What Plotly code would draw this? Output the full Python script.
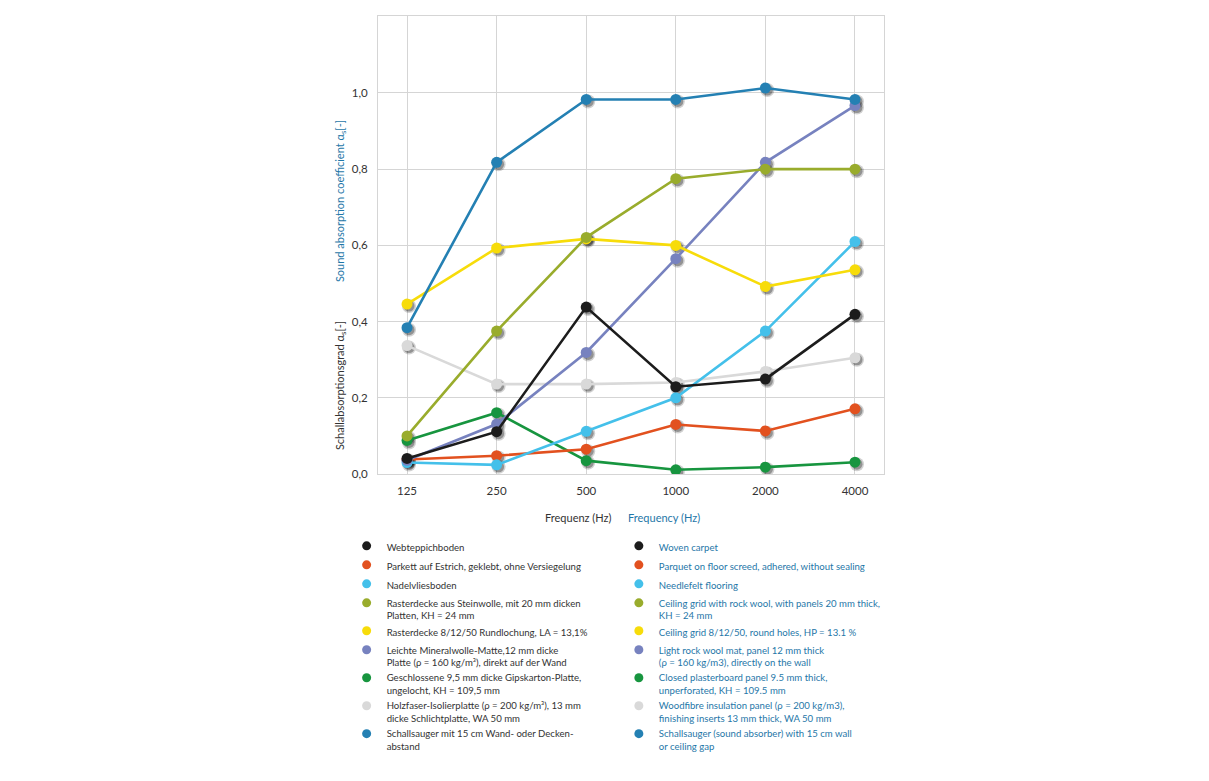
import plotly.graph_objects as go

# ---------------- data ----------------
frequencies = ["125", "250", "500", "1000", "2000", "4000"]

woven_carpet = [0.041, 0.111, 0.438, 0.229, 0.249, 0.419]
parquet = [0.038, 0.048, 0.065, 0.130, 0.113, 0.171]
needlefelt = [0.030, 0.024, 0.112, 0.200, 0.375, 0.610]
grid_rockwool = [0.100, 0.375, 0.621, 0.775, 0.800, 0.800]
grid_round_holes = [0.446, 0.593, 0.617, 0.600, 0.492, 0.536]
rockwool_mat = [0.036, 0.131, 0.319, 0.565, 0.818, 0.967]
plasterboard = [0.088, 0.161, 0.035, 0.011, 0.018, 0.031]
woodfibre = [0.337, 0.236, 0.236, 0.240, 0.269, 0.305]
sound_absorber = [0.384, 0.818, 0.983, 0.983, 1.013, 0.983]

names_de = [
    "Webteppichboden",
    "Parkett auf Estrich, geklebt, ohne Versiegelung",
    "Nadelvliesboden",
    "Rasterdecke aus Steinwolle, mit 20 mm dicken<br>Platten, KH = 24 mm",
    "Rasterdecke 8/12/50 Rundlochung, LA = 13,1%",
    "Leichte Mineralwolle-Matte,12 mm dicke<br>Platte (ρ = 160 kg/m³), direkt auf der Wand",
    "Geschlossene 9,5 mm dicke Gipskarton-Platte,<br>ungelocht, KH = 109,5 mm",
    "Holzfaser-Isolierplatte (ρ = 200 kg/m³), 13 mm<br>dicke Schlichtplatte, WA 50 mm",
    "Schallsauger mit 15 cm Wand- oder Decken-<br>abstand",
]
names_en = [
    "Woven carpet",
    "Parquet on floor screed, adhered, without sealing",
    "Needlefelt flooring",
    "Ceiling grid with rock wool, with panels 20 mm thick,<br>KH = 24 mm",
    "Ceiling grid 8/12/50, round holes, HP = 13.1 %",
    "Light rock wool mat, panel 12 mm thick<br>(ρ = 160 kg/m3), directly on the wall",
    "Closed plasterboard panel 9.5 mm thick,<br>unperforated, KH = 109.5 mm",
    "Woodfibre insulation panel (ρ = 200 kg/m3),<br>finishing inserts 13 mm thick, WA 50 mm",
    "Schallsauger (sound absorber) with 15 cm wall<br>or ceiling gap",
]

y_tickvals = [0.0, 0.2, 0.4, 0.6, 0.8, 1.0]
y_ticktext = ["0,0", "0,2", "0,4", "0,6", "0,8", "1,0"]

series = [woven_carpet, parquet, needlefelt, grid_rockwool, grid_round_holes,
          rockwool_mat, plasterboard, woodfibre, sound_absorber]

# ---------------- styles ----------------
colors = ["#1c1c1c", "#e2511f", "#44c0ea", "#99ac2c", "#f7dc0a",
          "#7782bf", "#17953f", "#d9d9d9", "#2480b3"]
# draw order (back to front)
draw_order = [7, 6, 1, 2, 5, 4, 3, 0, 8]

FONT = "Lato, 'Open Sans', sans-serif"
DARK = "#333333"
BLUE = "#1f77a8"
GRID = "#d5d5d5"

XR = [-0.324, 5.324]
YR = [0.0, 1.202]
# shadow offset (in data units ~2 px)
DX = 2.0 / 89.6
DY = 2.0 / 380.7

fig = go.Figure()

# legend entries (markers only)
for i in range(len(series)):
    fig.add_trace(go.Scatter(
        x=[None], y=[None], mode="markers", name=names_de[i],
        marker=dict(color=colors[i], size=9),
        legend="legend", hoverinfo="skip"))
for i in range(len(series)):
    fig.add_trace(go.Scatter(
        x=[None], y=[None], mode="markers", name=names_en[i],
        marker=dict(color=colors[i], size=9),
        legend="legend2", hoverinfo="skip"))

# soft marker shadows (overlay axes shifted by a couple of pixels)
for i in draw_order:
    fig.add_trace(go.Scatter(
        x=frequencies, y=series[i], mode="markers", showlegend=False,
        xaxis="x2", yaxis="y2", hoverinfo="skip",
        marker=dict(color="rgba(0,0,0,0.18)", size=14,
                    line=dict(width=0))))
    fig.add_trace(go.Scatter(
        x=frequencies, y=series[i], mode="markers", showlegend=False,
        xaxis="x2", yaxis="y2", hoverinfo="skip",
        marker=dict(color="rgba(0,0,0,0.30)", size=11,
                    line=dict(width=0))))

# main lines + markers
for i in draw_order:
    fig.add_trace(go.Scatter(
        x=frequencies, y=series[i], mode="lines+markers", showlegend=False,
        name=names_en[i].replace("<br>", " "),
        xaxis="x3", yaxis="y3",
        line=dict(color=colors[i], width=2.6),
        marker=dict(color=colors[i], size=11, line=dict(width=0))))

axis_common = dict(showgrid=False, zeroline=False, showticklabels=False,
                   showline=False, fixedrange=True)

fig.update_layout(
    width=1201, height=773,
    margin=dict(l=370, r=325, t=8, b=307, autoexpand=False),
    paper_bgcolor="white", plot_bgcolor="white",
    font=dict(family=FONT, color=DARK, size=11),
    xaxis=dict(type="category", categoryorder="array", categoryarray=frequencies,
               range=XR, showgrid=True, gridcolor=GRID, gridwidth=1,
               showline=True, mirror=True, linecolor=GRID, linewidth=1,
               zeroline=False, ticks="outside", ticklen=6,
               tickcolor="rgba(0,0,0,0)",
               tickfont=dict(family=FONT, size=11.5, color=DARK)),
    yaxis=dict(range=YR, tickvals=y_tickvals, ticktext=y_ticktext,
               showgrid=True, gridcolor=GRID, gridwidth=1,
               showline=True, mirror=True, linecolor=GRID, linewidth=1,
               zeroline=False, ticks="outside", ticklen=7,
               tickcolor="rgba(0,0,0,0)",
               tickfont=dict(family=FONT, size=11.5, color=DARK)),
    xaxis2=dict(type="category", categoryorder="array", categoryarray=frequencies,
                overlaying="x", range=[XR[0] - DX, XR[1] - DX], **axis_common),
    yaxis2=dict(overlaying="y", range=[YR[0] + DY, YR[1] + DY], **axis_common),
    xaxis3=dict(type="category", categoryorder="array", categoryarray=frequencies,
                overlaying="x", range=XR, **axis_common),
    yaxis3=dict(overlaying="y", range=YR, **axis_common),
    legend=dict(x=-0.062, y=-0.129, xanchor="left", yanchor="top",
                bgcolor="rgba(0,0,0,0)", valign="top",
                font=dict(family=FONT, size=9.6, color=DARK),
                itemclick=False, itemdoubleclick=False),
    legend2=dict(x=0.476, y=-0.129, xanchor="left", yanchor="top",
                 bgcolor="rgba(0,0,0,0)", valign="top",
                 font=dict(family=FONT, size=9.6, color=BLUE),
                 itemclick=False, itemdoubleclick=False),
    showlegend=True,
    annotations=[
        dict(text="Schallabsorptionsgrad α<sub>s</sub>[-]", xref="paper", yref="paper",
             x=-0.075, y=0.192, xanchor="center", yanchor="middle",
             textangle=-90, showarrow=False,
             font=dict(family=FONT, size=11, color=DARK)),
        dict(text="Sound absorption coefficient α<sub>s</sub>[-]", xref="paper", yref="paper",
             x=-0.075, y=0.596, xanchor="center", yanchor="middle",
             textangle=-90, showarrow=False,
             font=dict(family=FONT, size=11, color=BLUE)),
        dict(text="Frequenz (Hz)", xref="paper", yref="paper",
             x=0.397, y=-0.096, xanchor="center", yanchor="middle", showarrow=False,
             font=dict(family=FONT, size=11, color=DARK)),
        dict(text="Frequency (Hz)", xref="paper", yref="paper",
             x=0.565, y=-0.096, xanchor="center", yanchor="middle", showarrow=False,
             font=dict(family=FONT, size=11, color=BLUE)),
    ],
)

fig.write_html("out.html")
